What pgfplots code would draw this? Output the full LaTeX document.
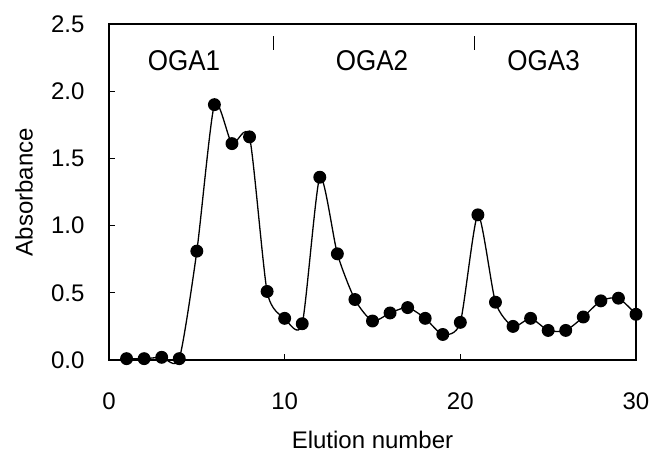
\documentclass[border=0pt]{standalone}
\usepackage{fontspec}
\setmainfont{Liberation Sans}
\usepackage{pgfplots}
\pgfplotsset{compat=1.18}
\begin{document}
\begin{tikzpicture}[font=\fontsize{24bp}{28bp}\selectfont]
\useasboundingbox (-109bp,-94bp) rectangle (540bp,360bp);
\begin{axis}[
  scale only axis,
  width=527bp, height=336bp,
  xmin=0, xmax=30, ymin=0, ymax=2.5,
  xtick={0,10,20,30},
  ytick={0,0.5,1,1.5,2,2.5},
  tick pos=left,
  tick align=inside,
  major tick length=6bp,
  axis line style={line width=1.2bp},
  every tick/.style={black, line width=0.9bp},
  /pgf/number format/assume math mode=true,
  tick label style={font=\fontsize{24bp}{28bp}\selectfont},
  yticklabel style={xshift=-21bp, /pgf/number format/fixed, /pgf/number format/fixed zerofill, /pgf/number format/precision=1},
  xticklabel style={yshift=-29bp},
  every axis x label/.style={at={(axis description cs:0.5,0)}, anchor=center, yshift=-80bp, font=\fontsize{24bp}{28bp}\selectfont},
  every axis y label/.style={at={(axis description cs:-0.161,0.5)}, anchor=center, rotate=90, font=\fontsize{24bp}{28bp}\selectfont},
  xlabel={Elution number},
  ylabel={Absorbance},
  clip=false,
]
\addplot[black, line width=1.3bp, smooth, tension=0.4, mark=*, mark size=5.8bp, mark options={solid}] coordinates {
(1,0.01) (2,0.01) (3,0.02) (4,0.01) (5,0.81) (6,1.90) (7,1.61) (8,1.66)
(9,0.51) (10,0.31) (11,0.27) (12,1.36) (13,0.79) (14,0.45) (15,0.29)
(16,0.35) (17,0.39) (18,0.31) (19,0.19) (20,0.28) (21,1.08) (22,0.43)
(23,0.25) (24,0.31) (25,0.22) (26,0.22) (27,0.32) (28,0.44) (29,0.46) (30,0.34)
};
\addplot[black, line width=1bp] coordinates {(9.35,2.41) (9.35,2.31)};
\addplot[black, line width=1bp] coordinates {(20.83,2.41) (20.83,2.31)};
\node[yscale=1.1, font=\fontsize{26bp}{30bp}\selectfont] at (axis cs:4.27,2.23) {OGA1};
\node[yscale=1.1, font=\fontsize{26bp}{30bp}\selectfont] at (axis cs:14.97,2.23) {OGA2};
\node[yscale=1.1, font=\fontsize{26bp}{30bp}\selectfont] at (axis cs:24.74,2.23) {OGA3};
\end{axis}
\end{tikzpicture}
\end{document}
